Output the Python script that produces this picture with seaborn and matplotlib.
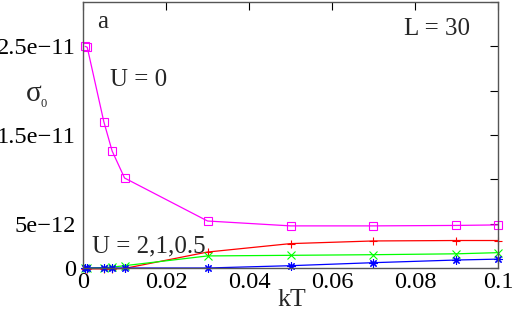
import numpy as np
import pandas as pd
import seaborn as sns
import matplotlib.pyplot as plt

# temperature points (kT)
kT = [0.0005, 0.001, 0.005, 0.007, 0.01, 0.03, 0.05, 0.07, 0.09, 0.1]

# sigma_0 for each U
sig_U0 = [2.50e-11, 2.49e-11, 1.65e-11, 1.32e-11, 1.015e-11, 0.53e-11, 0.475e-11, 0.475e-11, 0.48e-11, 0.486e-11]
sig_U2 = [-0.01e-11, -0.01e-11, -0.01e-11, -0.01e-11, -0.005e-11, 0.18e-11, 0.275e-11, 0.305e-11, 0.31e-11, 0.31e-11]
sig_U1 = [0.0, 0.0, 0.005e-11, 0.01e-11, 0.026e-11, 0.136e-11, 0.143e-11, 0.15e-11, 0.16e-11, 0.173e-11]
sig_U05 = [0.0, 0.0, 0.0, 0.0, 0.0, 0.0, 0.026e-11, 0.06e-11, 0.09e-11, 0.10e-11]

xticks = [0, 0.02, 0.04, 0.06, 0.08, 0.1]
xticklabels = ['0', '0.02', '0.04', '0.06', '0.08', '0.1']
yticks = [0, 5e-12, 1e-11, 1.5e-11, 2e-11, 2.5e-11, 3e-11]
yticklabels = ['0', '5e\u221212', '', '1.5e\u221211', '', '2.5e\u221211', '']

sns.set_style('white')
plt.rcParams['font.family'] = ['Liberation Serif', 'DejaVu Serif']

fig = plt.figure(figsize=(5.16, 3.10), dpi=100)
ax = fig.add_axes([0.161, 0.1355, 0.804, 0.858])

series = [
    (sig_U0, '#ff00ff', 's'),
    (sig_U2, '#ff0000', '+'),
    (sig_U1, '#00ff00', 'x'),
    (sig_U05, '#0000ff', (8, 2, 0)),
]
for vals, col, mk in series:
    df = pd.DataFrame({'kT': kT, 'sigma': vals})
    sns.lineplot(data=df, x='kT', y='sigma', ax=ax, color=col, lw=0.9,
                 marker=mk, markersize=6, markerfacecolor='none',
                 markeredgecolor=col, markeredgewidth=0.8, clip_on=False)

ax.set_xlim(0, 0.1)
ax.set_ylim(0, 3e-11)
ax.set_xticks(xticks)
ax.set_xticklabels(xticklabels)
ax.set_yticks(yticks)
ax.set_yticklabels(yticklabels)
ax.tick_params(direction='in', length=6, width=0.8, top=True, right=True,
               labelsize=17.6, colors='black')
ax.tick_params(axis='x', pad=3)
ax.tick_params(axis='y', pad=5)
for s in ax.spines.values():
    s.set_color('#555555')
    s.set_linewidth(1.0)

ax.set_xlabel('')
ax.set_ylabel('')
fig.text(292 / 516, 1 - 305.5 / 310, 'kT', fontsize=18.6, ha='center', va='baseline')
fig.text(0.066, 0.697, '\u03c3', fontsize=21, ha='center', va='center')
fig.text(0.085, 0.664, '0', fontsize=9, ha='center', va='center')

ax.text(0.035, 0.925, 'a', transform=ax.transAxes, fontsize=18, va='center')
ax.text(0.933, 0.897, 'L = 30', transform=ax.transAxes, fontsize=18, ha='right', va='center')
ax.text(0.065, 0.707, 'U = 0', transform=ax.transAxes, fontsize=18, va='center')
ax.text(0.022, 0.08, 'U = 2,1,0.5', transform=ax.transAxes, fontsize=18, va='center')

fig.savefig('out.png', dpi=100)
